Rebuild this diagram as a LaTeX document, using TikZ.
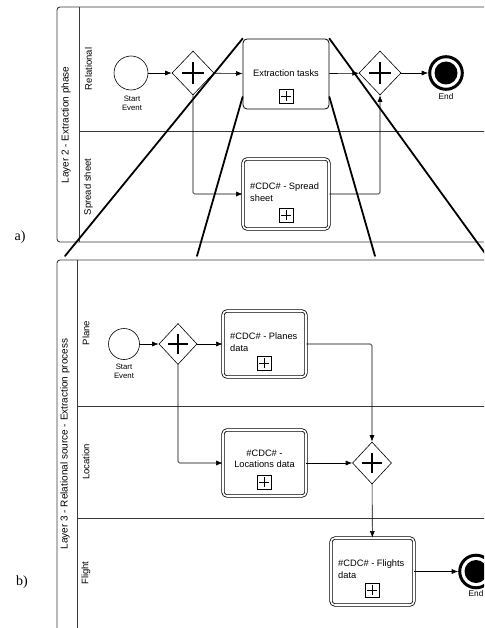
\documentclass[tikz,border=0pt]{standalone}
\usepackage{fontspec}
\setmainfont{Liberation Serif}
\setsansfont{Liberation Sans}
\usetikzlibrary{arrows.meta,shapes.geometric,calc}
\definecolor{poolgray}{HTML}{3A3A3A}
\begin{document}
\begin{tikzpicture}[x=1pt,y=-1pt,
  font=\sffamily\fontsize{9.3}{11.5}\selectfont,
  pool/.style={draw=poolgray, line width=0.9pt, rounded corners=3pt},
  laneline/.style={draw=poolgray, line width=0.9pt},
  poollbl/.style={rotate=90, font=\sffamily\fontsize{10}{12}\selectfont},
  lanelbl/.style={rotate=90, font=\sffamily\fontsize{9.5}{11}\selectfont},
  flow/.style={draw, line width=0.6pt, -{Latex[length=6.5pt,width=5pt]}, rounded corners=1.5pt},
  startev/.style={circle, draw, line width=0.6pt, inner sep=0pt, fill=white},
  evlbl/.style={font=\sffamily\fontsize{7.8}{9}\selectfont, align=center, inner sep=0pt},
  endev/.style={circle, draw, line width=3pt, inner sep=0pt, fill=white,
    path picture={\fill[black] (path picture bounding box.center) circle (11.5pt);}},
  gate/.style={diamond, draw, line width=0.6pt, inner sep=0pt, fill=white},
  gplus/.style={path picture={\draw[black, line width=2.6pt]
      ([xshift=-#1]path picture bounding box.center) -- ([xshift=#1]path picture bounding box.center)
      ([yshift=-#1]path picture bounding box.center) -- ([yshift=#1]path picture bounding box.center);}},
  task/.style={draw, rounded corners=4pt, line width=0.8pt, fill=white, inner sep=0pt},
  subtask/.style={draw, double, double distance=1.6pt, line width=0.8pt, rounded corners=4pt, fill=white, inner sep=0pt},
  tasktxt/.style={inner sep=0pt, align=left},
  plusbox/.style={draw, line width=0.6pt, minimum size=14pt, inner sep=0pt, fill=white,
    path picture={\draw[black, line width=0.6pt]
      ([xshift=-5pt]path picture bounding box.center) -- ([xshift=5pt]path picture bounding box.center)
      ([yshift=-5pt]path picture bounding box.center) -- ([yshift=5pt]path picture bounding box.center);}},
  zoomline/.style={line width=1.8pt, line cap=round},
  sublbl/.style={font=\rmfamily\fontsize{14}{16}\selectfont, inner sep=0pt}
]
\useasboundingbox (0,0) rectangle (484,628);
\clip (0,0) rectangle (484,628);

% ---------- Pool a) ----------
\draw[pool] (57,7) rectangle (520,242);
\draw[laneline] (79,7) -- (79,242);
\draw[laneline] (79,131) -- (520,131);
\node[poollbl] (pa) at (66,125) {Layer 2 - Extraction phase};
\node[lanelbl] (la1) at (88.5,69) {Relational};
\node[lanelbl] (la2) at (88.5,187) {Spread sheet};

% ---------- Pool b) ----------
\draw[pool] (57,260) rectangle (520,660);
\draw[laneline] (77,260) -- (77,660);
\draw[laneline] (77,406) -- (520,406);
\draw[laneline] (77,518) -- (520,518);
\node[poollbl] (pb) at (65,444) {Layer 3 - Relational source - Extraction process};
\node[lanelbl] (lb1) at (86,333) {Plane};
\node[lanelbl] (lb2) at (86,462) {Location};
\node[lanelbl] (lb3) at (86,573) {Flight};

% ---------- nodes a) ----------
\node[startev, minimum size=34pt] (s1) at (131,73) {};
\node[evlbl] (s1l) at (132,103) {Start\\Event};
\node[gate, minimum width=42pt, minimum height=44pt, gplus=11pt] (g1) at (193,73) {};
\node[task, minimum width=86pt, minimum height=70pt] (t1) at (286,74) {};
\node[inner sep=0pt] (t1l) at (286,73) {Extraction tasks};
\node[plusbox] (t1p) at (286,96) {};
\node[gate, minimum width=42pt, minimum height=44pt, gplus=11pt] (g2) at (380,73) {};
\node[endev, minimum size=32.6pt] (e1) at (446,73) {};
\node[evlbl, font=\sffamily\fontsize{8.3}{9}\selectfont] (e1l) at (446,97) {End};
\node[subtask, minimum width=86pt, minimum height=70pt] (t2) at (286,194) {};
\node[tasktxt, anchor=west] (t2l) at (250,192) {\#CDC\# - Spread\\sheet};
\node[plusbox] (t2p) at (286,215) {};

\coordinate (b1) at (380,194);
\draw[flow] (s1) -- (g1);
\draw[flow] (g1) -- (t1);
\draw[flow] (t1) -- (g2);
\draw[flow] (g2) -- (e1);
\draw[flow] (g1.south) |- (t2.west);
\draw[flow] (t2.east) -- (b1) -- (g2.south);

% ---------- nodes b) ----------
\node[startev, minimum size=31pt] (s2) at (124,344) {};
\node[evlbl] (s2l) at (124,371) {Start\\Event};
\node[gate, minimum width=38pt, minimum height=41pt, gplus=10pt] (g3) at (178,344) {};
\node[subtask, minimum width=83pt, minimum height=66pt] (t3) at (264.5,344) {};
\node[tasktxt, anchor=west] (t3l) at (230,342) {\#CDC\# - Planes\\data};
\node[plusbox] (t3p) at (264,363) {};
\node[subtask, minimum width=83pt, minimum height=66pt] (t4) at (264.5,463) {};
\node[tasktxt, align=center] (t4l) at (264.5,459) {\#CDC\# -\\Locations data};
\node[plusbox] (t4p) at (264,482) {};
\node[gate, minimum width=39pt, minimum height=42pt, gplus=10pt] (g4) at (372,463) {};
\node[subtask, minimum width=83pt, minimum height=67pt] (t5) at (372.5,571.5) {};
\node[tasktxt, anchor=west] (t5l) at (338,569) {\#CDC\# - Flights\\data};
\node[plusbox] (t5p) at (372,590) {};
\node[endev, minimum size=32.6pt] (e2) at (476,571.5) {};
\node[evlbl, font=\sffamily\fontsize{8.3}{9}\selectfont] (e2l) at (476,594) {End};

\coordinate (b2) at (372,344);
\draw[flow] (s2) -- (g3);
\draw[flow] (g3) -- (t3);
\draw[flow] (t3.east) -- (b2) -- (g4.north);
\draw[flow] (g3.south) |- (t4.west);
\draw[flow] (t4) -- (g4);
\draw[flow] (g4) -- (t5);
\draw[flow] (t5) -- (e2);

% ---------- zoom lines ----------
\coordinate (z1) at (65,256);
\coordinate (z2) at (197,256);
\coordinate (z3) at (375,256);
\coordinate (z4) at (487,256);
\draw[zoomline] (t1.north west) -- (z1);
\draw[zoomline] ([yshift=-23pt]t1.west) -- (z2);
\draw[zoomline] ([yshift=-23pt]t1.east) -- (z3);
\draw[zoomline] (t1.north east) -- (z4);

% ---------- sub-figure labels ----------
\node[sublbl] (la) at (20,237) {a)};
\node[sublbl] (lb) at (22,582) {b)};
\end{tikzpicture}
\end{document}
